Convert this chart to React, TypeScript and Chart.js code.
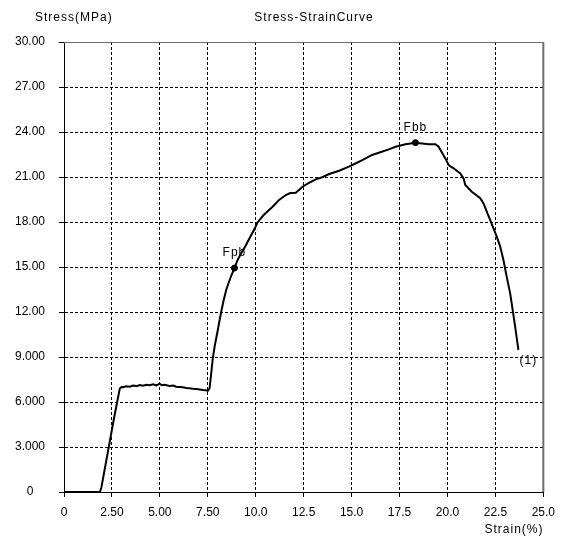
import React, { useEffect, useRef } from 'react';
import { Chart, registerables } from 'chart.js';

Chart.register(...registerables);

// ---- data ----
const strain = [
  0, 1.87, 1.95, 2.05, 2.35, 2.62, 2.91,
  3.0, 3.08, 3.25, 3.43, 3.6, 3.78, 3.95, 4.12, 4.3, 4.47, 4.65, 4.82, 4.99, 5.1, 5.25, 5.51, 5.7, 5.85,
  6.03, 6.2, 6.38, 6.55, 6.72, 6.9, 7.07, 7.25, 7.4, 7.5, 7.59,
  7.67, 7.76, 7.87, 7.99, 8.1, 8.2, 8.33, 8.46, 8.6, 8.75, 8.89, 9.05, 9.24, 9.45, 9.67, 9.9,
  10.1, 10.4, 10.88, 11.2, 11.57, 11.8, 12.09, 12.44, 12.8, 13.13, 13.5, 13.83, 14.35, 14.86,
  15.2, 15.56, 16.07, 16.42, 16.94, 17.29, 17.81, 18.33, 18.68, 19.02, 19.37, 19.54, 19.89,
  20.06, 20.32, 20.67, 20.84, 20.93, 21.27, 21.71, 21.88, 22.05, 22.23, 22.4, 22.57, 22.75,
  22.92, 23.09, 23.27, 23.35, 23.53, 23.7,
];
const stress = [
  0, 0, 0.3, 1.0, 3.1, 5.0, 6.9,
  7.0, 6.98, 7.05, 7.02, 7.1, 7.06, 7.13, 7.08, 7.15, 7.12, 7.18, 7.1, 7.22, 7.12, 7.15, 7.07, 7.1, 7.02,
  7.0, 6.98, 6.93, 6.92, 6.88, 6.86, 6.84, 6.8, 6.78, 6.74, 6.9,
  7.8, 8.91, 9.8, 10.58, 11.35, 12.02, 12.8, 13.47, 14.0, 14.5, 14.93, 15.45, 15.91, 16.37, 16.9, 17.45,
  17.98, 18.45, 19.02, 19.45, 19.8, 19.93, 19.95, 20.35, 20.62, 20.84, 21.0, 21.2, 21.42, 21.69,
  21.9, 22.13, 22.47, 22.62, 22.84, 23.02, 23.18, 23.29, 23.24, 23.18, 23.18, 23.02, 22.24,
  21.8, 21.58, 21.24, 20.91, 20.47, 20.02, 19.58, 19.24, 18.69, 18.13, 17.58, 17.02, 16.36,
  15.47, 14.36, 13.24, 12.58, 11.02, 9.47,
];

const yTickLabels = ['0', '3.000', '6.000', '9.000', '12.00', '15.00', '18.00', '21.00', '24.00', '27.00', '30.00'];
const xTickLabels = ['0', '2.50', '5.00', '7.50', '10.0', '12.5', '15.0', '17.5', '20.0', '22.5', '25.0'];

const markNames = ['Fpb', 'Fbb'];
const markStrain = [8.89, 18.33];
const markStress = [14.93, 23.29];
const endLabel = '(1)';

const titleText = 'Stress-StrainCurve';
const yAxisTitle = 'Stress(MPa)';
const xAxisTitle = 'Strain(%)';

const FONT = '"Liberation Sans", Arial, sans-serif';

export default function App() {
  const ref = useRef<HTMLCanvasElement | null>(null);

  useEffect(() => {
    document.body.style.margin = '0';
    const canvas = ref.current;
    if (!canvas) return;

    const curve = strain.map((x, i) => ({ x, y: stress[i] }));
    const marks = markStrain.map((x, i) => ({ x, y: markStress[i] }));

    const textPlugin = {
      id: 'texts',
      afterDraw(chart: any) {
        const { ctx, chartArea, scales } = chart;
        ctx.save();
        // top & right frame
        ctx.strokeStyle = '#6e6e6e';
        ctx.lineWidth = 1;
        ctx.beginPath();
        ctx.moveTo(chartArea.left, chartArea.top + 0.5);
        ctx.lineTo(chartArea.right, chartArea.top + 0.5);
        ctx.stroke();
        ctx.lineWidth = 2;
        ctx.beginPath();
        ctx.moveTo(chartArea.right, chartArea.top);
        ctx.lineTo(chartArea.right, chartArea.bottom);
        ctx.stroke();

        ctx.fillStyle = '#000';
        ctx.font = `12px ${FONT}`;
        try { (ctx as any).letterSpacing = '1px'; } catch (e) {}
        ctx.textBaseline = 'middle';
        ctx.textAlign = 'left';
        ctx.fillText(yAxisTitle, 35, 18);
        ctx.textAlign = 'center';
        ctx.fillText(titleText, 314, 18);
        ctx.fillText(xAxisTitle, 514, 530);

        const xs = scales.x;
        const ys = scales.y;
        markNames.forEach((name, i) => {
          const px = xs.getPixelForValue(markStrain[i]);
          const py = ys.getPixelForValue(markStress[i]);
          ctx.fillText(name, px, py - 15);
        });
        const ex = xs.getPixelForValue(strain[strain.length - 1]);
        const ey = ys.getPixelForValue(stress[stress.length - 1]);
        ctx.fillText(endLabel, ex + 10, ey + 11);
        try { (ctx as any).letterSpacing = '0px'; } catch (e) {}
        ctx.restore();
      },
    };

    const chart = new Chart(canvas, {
      type: 'line',
      data: {
        datasets: [
          {
            data: curve,
            borderColor: '#000',
            borderWidth: 2,
            pointRadius: 0,
            tension: 0,
            fill: false,
          },
          {
            data: marks,
            showLine: false,
            pointRadius: 3,
            pointBackgroundColor: '#000',
            pointBorderColor: '#000',
          },
        ],
      },
      options: {
        animation: false,
        responsive: false,
        devicePixelRatio: 1,
        layout: { padding: { top: 42, right: 18, left: 0, bottom: 0 } },
        plugins: {
          legend: { display: false },
          title: { display: false },
          tooltip: { enabled: false },
        },
        scales: {
          x: {
            type: 'linear',
            min: 0,
            max: 25,
            ticks: {
              stepSize: 2.5,
              autoSkip: false,
              maxRotation: 0,
              padding: 8,
              color: '#000',
              font: { family: FONT, size: 12 },
              callback: (_v: any, i: number) => xTickLabels[i],
            },
            grid: { color: '#000', lineWidth: 1, tickLength: 5, tickColor: '#000' },
            border: { color: '#000', width: 1, dash: [3, 2] },
            afterFit: (s: any) => { s.height = 49; },
          },
          y: {
            type: 'linear',
            min: 0,
            max: 30,
            ticks: {
              stepSize: 3,
              autoSkip: false,
              padding: 14,
              crossAlign: 'center',
              color: '#000',
              font: { family: FONT, size: 12 },
              callback: (_v: any, i: number) => yTickLabels[i],
            },
            grid: { color: '#000', lineWidth: 1, tickLength: 5, tickColor: '#000' },
            border: { color: '#000', width: 1, dash: [3, 2] },
            afterFit: (s: any) => { s.width = 64; },
          },
        },
      } as any,
      plugins: [textPlugin],
    });

    return () => chart.destroy();
  }, []);

  return (
    <div style={{ width: 563, height: 541, background: '#fff' }}>
      <canvas ref={ref} width={563} height={541} style={{ display: 'block' }} />
    </div>
  );
}
